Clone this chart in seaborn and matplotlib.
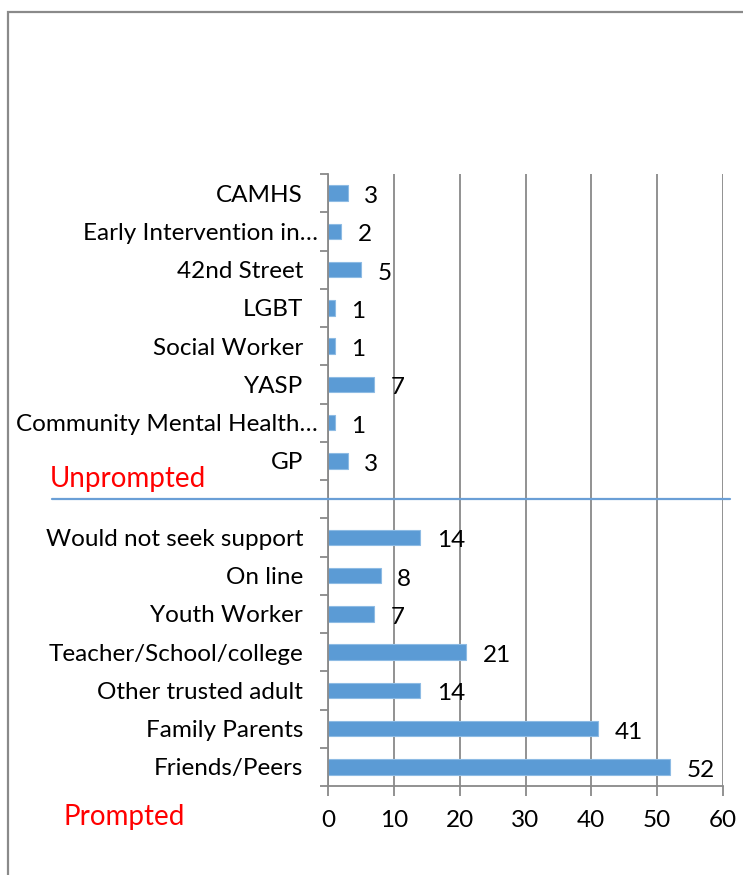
import numpy as np
import pandas as pd
import matplotlib
matplotlib.use("Agg")
import matplotlib.pyplot as plt
from matplotlib.patches import Rectangle
from matplotlib.lines import Line2D
from matplotlib.transforms import blended_transform_factory, ScaledTranslation
import seaborn as sns

# Sources of support, top to bottom
unprompted_labels = ["CAMHS", "Early Intervention in\u2026", "42nd Street", "LGBT",
                     "Social Worker", "YASP", "Community Mental Health\u2026", "GP"]
unprompted_values = [3, 2, 5, 1, 1, 7, 1, 3]

prompted_labels = ["Would not seek support", "On line", "Youth Worker",
                   "Teacher/School/college", "Other trusted adult",
                   "Family Parents", "Friends/Peers"]
prompted_values = [14, 8, 7, 21, 14, 41, 52]

x_ticks = [0, 10, 20, 30, 40, 50, 60]

# an empty slot separates the two groups
spacer = " "
categories = unprompted_labels + [spacer] + prompted_labels
values = unprompted_values + [np.nan] + prompted_values
df = pd.DataFrame({"source": categories, "count": values})

sns.set_theme(style="white")
plt.rcParams["font.family"] = ["Lato", "DejaVu Sans"]

BAR = "#5B9BD5"
GRID = "#898989"
FS = 17.5
FS_GROUP = 20

fig = plt.figure(figsize=(7.43, 8.75), dpi=100)
ax = fig.add_axes([328 / 743, 1 - 786 / 875, (723 - 328) / 743, (786 - 174) / 875])

sns.barplot(data=df.dropna(), x="count", y="source", order=categories,
            color=BAR, saturation=1, width=0.4, errorbar=None,
            edgecolor="#8dbbe4", linewidth=0.8, ax=ax)

ax.set_xlim(x_ticks[0], x_ticks[-1])
ax.set_ylim(len(categories) - 0.5, -0.5)
ax.set_xticks(x_ticks)
ax.set_xlabel("")
ax.set_ylabel("")

# vertical gridlines
ax.grid(axis="x", color=GRID, linewidth=1.3)
ax.grid(axis="y", visible=False)
ax.set_axisbelow(True)

for side in ["top", "right"]:
    ax.spines[side].set_visible(False)
for side in ["left", "bottom"]:
    ax.spines[side].set_color(GRID)
    ax.spines[side].set_linewidth(1.3)

# category labels centred, tick marks on the boundaries
ax.tick_params(axis="y", which="major", length=0, pad=18, labelsize=FS, labelcolor="black")
ax.set_yticks(np.arange(-0.5, len(categories), 1.0), minor=True)
ax.tick_params(axis="y", which="minor", length=6, width=1.3, color=GRID, left=True)
ax.tick_params(axis="x", which="major", length=7, width=1.3, color=GRID, bottom=True,
               pad=10, labelsize=FS, labelcolor="black")

# value labels, nudged slightly below the bar centre
for cont in ax.containers:
    anns = ax.bar_label(cont, labels=[f"{v:g}" for v in cont.datavalues],
                        padding=12, fontsize=FS, color="black")
    for ann in anns:
        ann.xyann = (ann.xyann[0], ann.xyann[1] - 2.5)

# separator between the two groups
sep_y = categories.index(spacer)
tr = blended_transform_factory(fig.transFigure, ax.transData)
fig.add_artist(Line2D([52 / 743, 730 / 743], [sep_y, sep_y], transform=tr,
                      color="#6a9fd6", linewidth=1.6, clip_on=False))

fig.text(50 / 743, 1 - 479 / 875, "Unprompted", color="#ff0000", fontsize=FS_GROUP,
         ha="left", va="center")
fig.text(63 / 743, 1 - 817 / 875, "Prompted", color="#ff0000", fontsize=FS_GROUP,
         ha="left", va="center")

# outer chart frame
fig.add_artist(Rectangle((8 / 743, -0.1), 1.2, 0.1 + 1 - 12.5 / 875,
                         transform=fig.transFigure, fill=False,
                         edgecolor="#8a8a8a", linewidth=1.6))

# truncated category names sit closer to the axis
fig.canvas.draw()
shift = ScaledTranslation(15 / 100, 0, fig.dpi_scale_trans)
for lab in ax.get_yticklabels():
    if lab.get_text().endswith("\u2026"):
        lab.set_transform(lab.get_transform() + shift)

fig.savefig("out.png", dpi=100)
